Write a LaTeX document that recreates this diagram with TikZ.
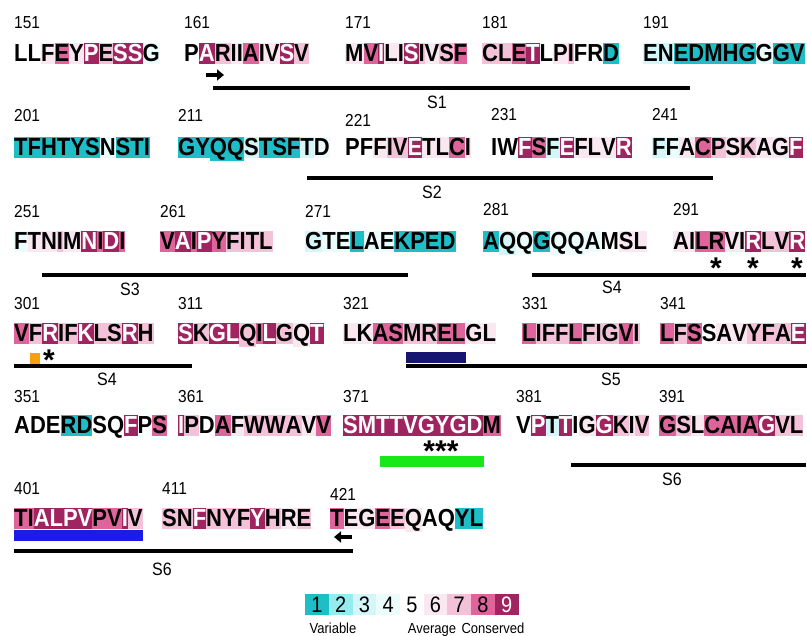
\documentclass[tikz,border=0pt]{standalone}
\usepackage{fontspec}
\setmainfont{Liberation Sans}
\usepackage{graphicx}
\usetikzlibrary{arrows.meta}

% conservation grades 1 (variable) .. 9 (conserved)
\definecolor{g1}{RGB}{30,190,200}
\definecolor{g2}{RGB}{150,235,240}
\definecolor{g3}{RGB}{212,246,248}
\definecolor{g4}{RGB}{236,251,251}
\definecolor{g5}{RGB}{255,255,255}
\definecolor{g6}{RGB}{250,232,240}
\definecolor{g7}{RGB}{244,194,216}
\definecolor{g8}{RGB}{222,100,155}
\definecolor{g9}{RGB}{160,36,96}
\definecolor{navybar}{RGB}{22,22,112}
\definecolor{bluebar}{RGB}{28,28,232}
\definecolor{greenbar}{RGB}{24,232,24}
\definecolor{orangemark}{RGB}{245,160,20}

\newcommand{\tall}[1]{\scalebox{1}[1.12]{#1}}
\newcommand{\res}[2]{{\fboxsep=0pt\colorbox{g#1}{\rule[-0.1em]{0pt}{0.86em}\ifnum#1=9 \color{white}\fi#2}}}
\makeatletter
\newcommand{\seqline}[2]{\tall{\seq@step#1\@nil#2\@nil}}
\def\seq@step#1#2\@nil#3#4\@nil{\res{#3}{#1}\ifx\relax#2\relax\else\seq@step#2\@nil#4\@nil\fi}
\makeatother

\tikzset{
  blk/.style={anchor=base west, inner sep=0pt, font=\fontsize{22}{24}\selectfont\bfseries},
  num/.style={anchor=base west, inner sep=0pt, font=\fontsize{15.5}{18}\selectfont},
  sslab/.style={anchor=base, inner sep=0pt, font=\fontsize{16}{18}\selectfont},
  strand/.style={line width=3.6pt},
  bar/.style={inner sep=0pt, minimum height=11pt, anchor=north west},
  star/.style={anchor=north, inner sep=0pt, font=\fontsize{30}{30}\selectfont\bfseries},
  turn/.style={line width=3.4pt, -{Triangle[length=7pt,width=11pt]}},
  key/.style={anchor=west, inner sep=0pt, minimum width=23.7pt, minimum height=21pt, font=\fontsize{20}{21}\selectfont},
  keylab/.style={anchor=base, inner sep=0pt, font=\fontsize{13}{15}\selectfont},
}

\begin{document}
\begin{tikzpicture}[x=1pt,y=-1pt]
\useasboundingbox (0,0) rectangle (807,636);

% residues 151-200
\node[num] (n151) at (14,29) {\tall{151}};
\node[num] (n161) at (184,29) {\tall{161}};
\node[num] (n171) at (345,29) {\tall{171}};
\node[num] (n181) at (482,29) {\tall{181}};
\node[num] (n191) at (643,29) {\tall{191}};
\node[blk] (r151) at (14,62) {\seqline{LLFEYPESSG}{5568697994}};
\node[blk] (r161) at (184,62) {\seqline{PARIIAIVSV}{5976686697}};
\node[blk] (r171) at (345,62) {\seqline{MVILISIVSF}{6896697678}};
\node[blk] (r181) at (482,62) {\seqline{CLETLPIFRD}{7789567551}};
\node[blk] (r191) at (643,62) {\seqline{ENEDMHGGGV}{3311111411}};
\coordinate (t1a) at (206,75);
\coordinate (t1b) at (224,75);
\draw[turn] (t1a) -- (t1b);
\coordinate (s1a) at (213,88);
\coordinate (s1b) at (690,88);
\draw[strand] (s1a) -- (s1b);
\node[sslab] (l1) at (437,109) {\tall{S1}};

% residues 201-250
\node[num] (n201) at (14,122) {\tall{201}};
\node[num] (n211) at (178,122) {\tall{211}};
\node[num] (n221) at (345,127) {\tall{221}};
\node[num] (n231) at (491,121) {\tall{231}};
\node[num] (n241) at (652,121) {\tall{241}};
\node[blk] (r201) at (14,156) {\seqline{TFHTYSNSTI}{1111114111}};
\node[blk] (r211) at (178,156) {\seqline{GYQQSTSFTD}{1111311134}};
\node[blk] (r221) at (345,156) {\seqline{PFFIVETLCI}{5567796686}};
\node[blk] (r231) at (491,156) {\seqline{IWFSFEFLVR}{5598396669}};
\node[blk] (r241) at (652,156) {\seqline{FFACPSKAGF}{3468767669}};
\coordinate (s2a) at (307,178);
\coordinate (s2b) at (713,178);
\draw[strand] (s2a) -- (s2b);
\node[sslab] (l2) at (432,199) {\tall{S2}};

% residues 251-300
\node[num] (n251) at (14,218) {\tall{251}};
\node[num] (n261) at (160,218) {\tall{261}};
\node[num] (n271) at (305,218) {\tall{271}};
\node[num] (n281) at (483,216) {\tall{281}};
\node[num] (n291) at (673,216) {\tall{291}};
\node[blk] (r251) at (14,250) {\seqline{FTNIMNIDI}{466769898}};
\node[blk] (r261) at (160,250) {\seqline{VAIPYFITL}{898987777}};
\node[blk] (r271) at (305,250) {\seqline{GTELAEKPED}{3441441111}};
\node[blk] (r281) at (483,250) {\seqline{AQQGQQAMSL}{1341444566}};
\node[blk] (r291) at (673,250) {\seqline{AILRVIRLVR}{6688669779}};
\node[star] (a294) at (716,258) {*};
\node[star] (a297) at (753,258) {*};
\node[star] (a300) at (797,258) {*};
\coordinate (s3a) at (42,275);
\coordinate (s3b) at (408,275);
\draw[strand] (s3a) -- (s3b);
\node[sslab] (l3) at (130,296) {\tall{S3}};
\coordinate (s4a) at (532,275);
\coordinate (s4b) at (806,275);
\draw[strand] (s4a) -- (s4b);
\node[sslab] (l4) at (612,294) {\tall{S4}};

% residues 301-350
\node[num] (n301) at (14,310) {\tall{301}};
\node[num] (n311) at (178,310) {\tall{311}};
\node[num] (n321) at (343,310) {\tall{321}};
\node[num] (n331) at (522,310) {\tall{331}};
\node[num] (n341) at (660,310) {\tall{341}};
\node[blk] (r301) at (14,342) {\seqline{VFRIFKLSRH}{8797797797}};
\node[blk] (r311) at (178,342) {\seqline{SKGLQILGQT}{9799789769}};
\node[blk] (r321) at (343,342) {\seqline{LKASMRELGL}{6688778866}};
\node[blk] (r331) at (522,342) {\seqline{LIFFLFIGVI}{8777877787}};
\node[blk] (r341) at (660,342) {\seqline{LFSSAVYFAE}{8785667779}};
\fill[orangemark] (30,353) rectangle (40,364);
\node[star] (a303) at (49,350) {*};
\node[bar, fill=navybar, minimum width=60pt] (m1) at (406,352) {};
\coordinate (s4c) at (14,366);
\coordinate (s4d) at (192,366);
\draw[strand] (s4c) -- (s4d);
\node[sslab] (l4b) at (107,386) {\tall{S4}};
\coordinate (s5a) at (406,366);
\coordinate (s5b) at (807,366);
\draw[strand] (s5a) -- (s5b);
\node[sslab] (l5) at (611,386) {\tall{S5}};

% residues 351-400
\node[num] (n351) at (14,403) {\tall{351}};
\node[num] (n361) at (178,403) {\tall{361}};
\node[num] (n371) at (343,403) {\tall{371}};
\node[num] (n381) at (516,403) {\tall{381}};
\node[num] (n391) at (659,403) {\tall{391}};
\node[blk] (r351) at (14,434) {\seqline{ADERDSQFPS}{5551155958}};
\node[blk] (r361) at (178,434) {\seqline{IPDAFWWAVV}{9758677768}};
\node[blk] (r371) at (343,434) {\seqline{SMTTVGYGDM}{9999999998}};
\node[blk] (r381) at (516,434) {\seqline{VPTTIGGKIV}{5939569767}};
\node[blk] (r391) at (659,434) {\seqline{GSLCAIAGVL}{8768888977}};
\node[star] (a377) at (441,441) {***};
\node[bar, fill=greenbar, minimum width=104pt] (m2) at (380,456) {};
\coordinate (s6a) at (571,465);
\coordinate (s6b) at (806,465);
\draw[strand] (s6a) -- (s6b);
\node[sslab] (l6) at (672,486) {\tall{S6}};

% residues 401-428
\node[num] (n401) at (14,495) {\tall{401}};
\node[num] (n411) at (162,495) {\tall{411}};
\node[num] (n421) at (330,501) {\tall{421}};
\node[blk] (r401) at (14,527) {\seqline{TIALPVPVIV}{8899998897}};
\node[blk] (r411) at (162,527) {\seqline{SNFNYFYHRE}{7797779767}};
\node[blk] (r421) at (330,527) {\seqline{TEGEEQAQYL}{8668765511}};
\node[bar, fill=bluebar, minimum width=129pt] (m3) at (14,530) {};
\coordinate (t2a) at (352,537);
\coordinate (t2b) at (334,537);
\draw[turn] (t2a) -- (t2b);
\coordinate (s6c) at (14,551);
\coordinate (s6d) at (353,551);
\draw[strand] (s6c) -- (s6d);
\node[sslab] (l6b) at (162,576) {\tall{S6}};

% colour key
\node[key, fill=g1] (k1) at (305.0,604.5) {\tall{1}};
\node[key, fill=g2] (k2) at (328.7,604.5) {\tall{2}};
\node[key, fill=g3] (k3) at (352.4,604.5) {\tall{3}};
\node[key, fill=g4] (k4) at (376.1,604.5) {\tall{4}};
\node[key, fill=g5] (k5) at (399.8,604.5) {\tall{5}};
\node[key, fill=g6] (k6) at (423.5,604.5) {\tall{6}};
\node[key, fill=g7] (k7) at (447.2,604.5) {\tall{7}};
\node[key, fill=g8] (k8) at (470.9,604.5) {\tall{8}};
\node[key, fill=g9, text=white] (k9) at (494.6,604.5) {\tall{9}};
\node[keylab] (kv) at (333,633) {\tall{Variable}};
\node[keylab] (ka) at (432,633) {\tall{Average}};
\node[keylab] (kc) at (493,633) {\tall{Conserved}};
\end{tikzpicture}
\end{document}
